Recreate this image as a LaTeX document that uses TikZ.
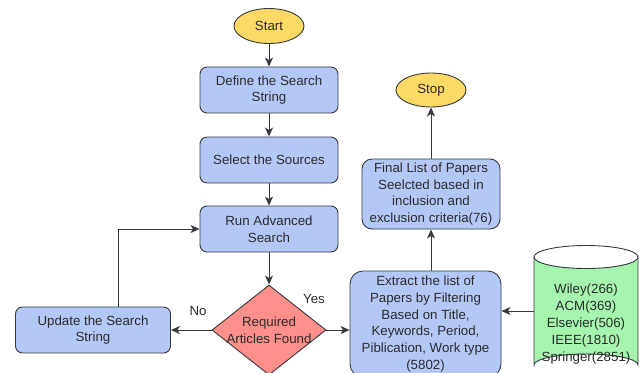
\documentclass[tikz,border=0pt]{standalone}
\usepackage{fontspec}
\setmainfont{Liberation Sans}
\usetikzlibrary{shapes.geometric,arrows.meta}
\definecolor{boxblue}{HTML}{B4C8F8}
\definecolor{termyellow}{HTML}{FFD966}
\definecolor{decred}{HTML}{FF8F8A}
\definecolor{dbgreen}{HTML}{A5F5AE}
\definecolor{edge}{HTML}{36393D}
\definecolor{txt}{HTML}{2B2B2B}
\tikzset{
  x=1pt, y=-1pt,
  every node/.style={font=\fontsize{13.3}{16.8}\selectfont, text=txt},
  term/.style={ellipse, draw=edge, line width=0.9pt, fill=termyellow, inner sep=0pt},
  stepbox/.style={rectangle, rounded corners=7pt, draw=edge, line width=0.9pt, fill=boxblue, align=center, inner sep=0pt},
  decision/.style={diamond, draw=edge, line width=0.9pt, fill=decred, inner sep=0pt},
  flow/.style={draw=edge, line width=0.9pt, -{Stealth[length=9pt,width=8pt,inset=2.5pt]}},
}
\begin{document}
\begin{tikzpicture}
\useasboundingbox (0,0) rectangle (639,372);
\node[term, minimum width=70, minimum height=35] (start) at (269,26) {Start};
\node[stepbox, minimum width=138, minimum height=46] (define) at (269,90) {Define the Search\\String};
\node[stepbox, minimum width=138, minimum height=46] (select) at (269,160) {Select the Sources};
\node[stepbox, minimum width=138, minimum height=46] (run) at (269,229) {Run Advanced\\Search};
\node[decision, minimum width=114, minimum height=90] (dec) at (269,330) {};
\node[align=center] (dectext) at (269,330) {Required\\Articles Found};
\node[stepbox, minimum width=155, minimum height=46] (update) at (93,330) {Update the Search\\String};
\node[stepbox, rounded corners=13pt, minimum width=151, minimum height=106] (extract) at (425.5,324) {Extract the list of\\Papers by Filtering\\Based on Title,\\Keywords, Period,\\Piblication, Work type\\(5802)};
\node[stepbox, rounded corners=10pt, minimum width=138, minimum height=70] (final) at (431,194) {Final List of Papers\\Seelcted based in\\inclusion and\\exclusion criteria(76)};
\node[term, minimum width=70, minimum height=34] (stop) at (431,90) {Stop};
% database cylinder
\node[minimum width=104, minimum height=130, inner sep=0pt] (db) at (586,311) {};
\fill[dbgreen] (534,257) -- (534,365) arc[start angle=180, end angle=360, x radius=52, y radius=11] -- (638,257) arc[start angle=0, end angle=180, x radius=52, y radius=11.5] -- cycle;
\draw[edge, line width=0.9pt] (534,257) -- (534,365) arc[start angle=180, end angle=360, x radius=52, y radius=11] -- (638,257);
\draw[edge, line width=0.9pt] (586,257) ellipse[x radius=52, y radius=11.5];
\node[align=center] (dbtext) at (586,324) {Wiley(266)\\ACM(369)\\Elsevier(506)\\IEEE(1810)\\Springer(2851)};
% connectors
\draw[flow] (start) -- (define);
\draw[flow] (define) -- (select);
\draw[flow] (select) -- (run);
\draw[flow] (run) -- (dec);
\draw[flow] (dec.west) -- (dec.west -| update.east);
\draw[flow] ([xshift=25]update.north) |- (run.west);
\draw[flow] (dec.east) -- (dec.east -| extract.west);
\draw[flow] (db.west) -- (db.west -| extract.east);
\draw[flow] (final.south |- extract.north) -- (final.south);
\draw[flow] (final) -- (stop);
\node (nolabel) at (198,311) {No};
\node (yeslabel) at (314,299) {Yes};
\end{tikzpicture}
\end{document}
